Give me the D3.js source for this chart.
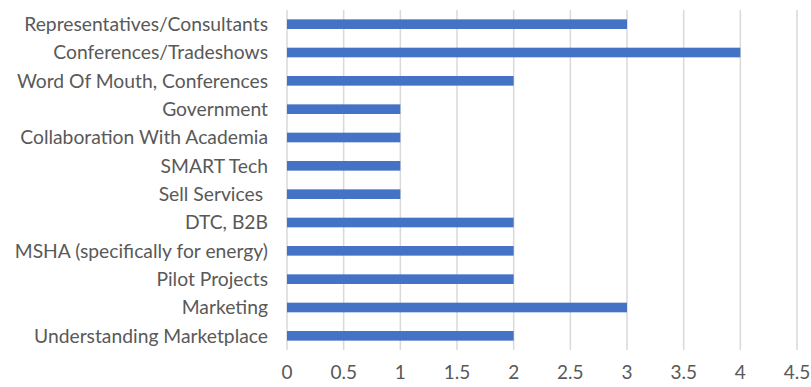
<!DOCTYPE html>
<html><head><meta charset="utf-8">
<script src="https://cdn.jsdelivr.net/npm/d3@7"></script>
<style>body{margin:0;background:#fff}svg{display:block}text{font-family:Lato,"Open Sans",sans-serif}</style>
</head><body><svg id="c" width="811" height="387"></svg>
<script>
const categories = ["Representatives/Consultants","Conferences/Tradeshows","Word Of Mouth, Conferences","Government","Collaboration With Academia","SMART Tech","Sell Services ","DTC, B2B","MSHA (specifically for energy)","Pilot Projects","Marketing","Understanding Marketplace"];
const values = [3,4,2,1,1,1,1,2,2,2,3,2];
const ticks = [0,0.5,1,1.5,2,2.5,3,3.5,4,4.5];

const svg = d3.select("#c");
const x = d3.scaleLinear().domain([0,4.5]).range([287,797]);
const y = d3.scaleBand().domain(categories).range([10,350]).paddingInner(0.66).paddingOuter(0.33);

svg.append("g").selectAll("line").data(ticks).join("line")
  .attr("x1",d=>x(d)).attr("x2",d=>x(d)).attr("y1",10).attr("y2",350)
  .attr("stroke","#d9d9d9").attr("stroke-width",1.5);

svg.append("g").selectAll("rect").data(categories).join("rect")
  .attr("x",x(0)).attr("y",d=>y(d)).attr("height",y.bandwidth())
  .attr("width",(d,i)=>x(values[i])-x(0)).attr("fill","#4472C4");

svg.append("g").selectAll("text").data(categories).join("text")
  .attr("x",268).attr("y",d=>y(d)+y.bandwidth()/2).attr("dy","0.35em")
  .attr("text-anchor","end").attr("fill","#595959").attr("font-size",19.3)
  .style("white-space","pre").text(d=>d);

svg.append("g").selectAll("text").data(ticks).join("text")
  .attr("x",d=>x(d)).attr("y",372).attr("dy","0.35em")
  .attr("text-anchor","middle").attr("fill","#595959").attr("font-size",19)
  .text(d=>d);
</script></body></html>
